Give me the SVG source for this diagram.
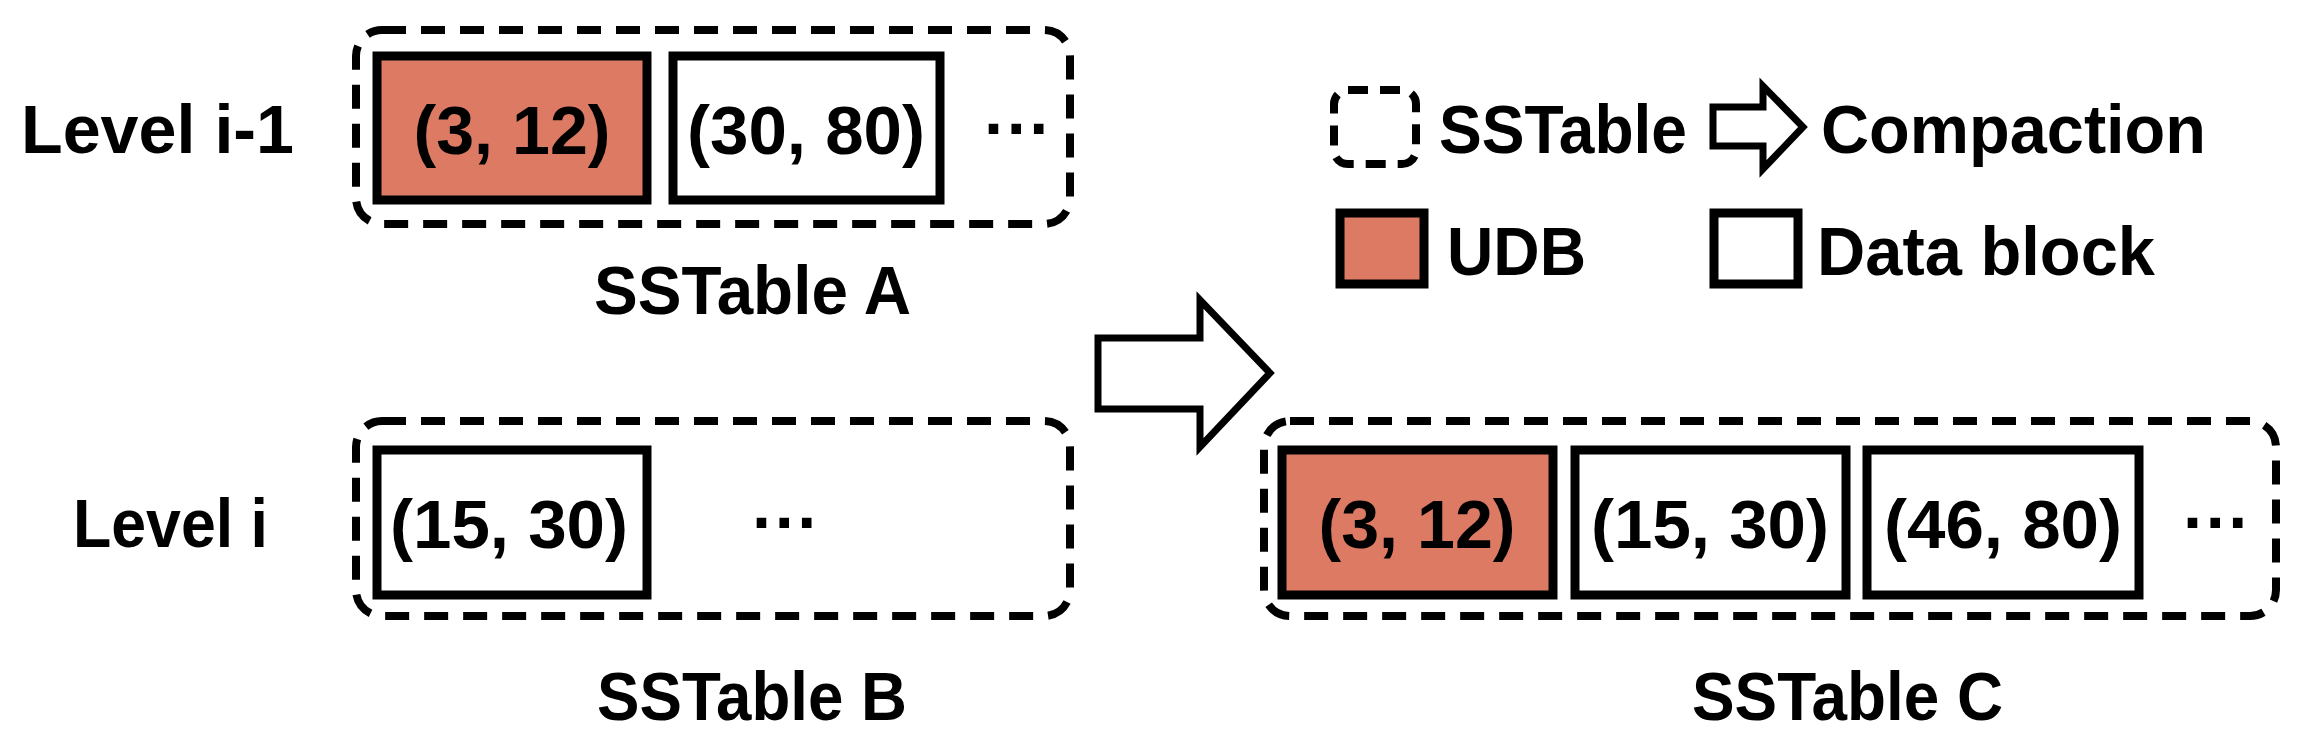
<svg xmlns="http://www.w3.org/2000/svg" width="2305" height="741" viewBox="0 0 2305 741">
<style>
.sst{fill:none;stroke:#000;stroke-width:8;stroke-dasharray:24 15}
.blk{fill:#fff;stroke:#000;stroke-width:9}
.udb{fill:#DD7A64;stroke:#000;stroke-width:9}
.arr{fill:#fff;stroke:#000;stroke-width:7}
text{font-family:"Liberation Sans",Arial,sans-serif;font-weight:bold;font-size:68px;fill:#000}
.m{text-anchor:middle}
</style>
<rect width="2305" height="741" fill="#fff"/>
<g id="labels">
<text x="21" y="153" textLength="273" lengthAdjust="spacingAndGlyphs">Level i-1</text>
<text x="73" y="547" textLength="195" lengthAdjust="spacingAndGlyphs">Level i</text>
</g>
<g id="sstableA">
<rect class="sst" x="356" y="30" width="714" height="194" rx="26"/>
<rect class="udb" x="377" y="56" width="270" height="144"/>
<text class="m" x="512" y="154" textLength="197" lengthAdjust="spacingAndGlyphs">(3, 12)</text>
<rect class="blk" x="673" y="56" width="267" height="144"/>
<text class="m" x="806" y="154" textLength="238" lengthAdjust="spacingAndGlyphs">(30, 80)</text>
<text class="m" x="1018" y="152">···</text>
<text x="594" y="314" textLength="317" lengthAdjust="spacingAndGlyphs">SSTable A</text>
</g>
<g id="sstableB">
<rect class="sst" x="356" y="421" width="714" height="195" rx="26"/>
<rect class="blk" x="377" y="450" width="270" height="145"/>
<text class="m" x="509" y="548" textLength="238" lengthAdjust="spacingAndGlyphs">(15, 30)</text>
<text class="m" x="786" y="546">···</text>
<text x="597" y="720" textLength="310" lengthAdjust="spacingAndGlyphs">SSTable B</text>
</g>
<g id="connectors">
<polygon class="arr" points="1098,338 1200,338 1200,300 1270,373 1200,447 1200,409 1098,409"/>
</g>
<g id="sstableC">
<rect class="sst" x="1264" y="421" width="1012" height="195" rx="26"/>
<rect class="udb" x="1282" y="450" width="271" height="145"/>
<text class="m" x="1417" y="548" textLength="197" lengthAdjust="spacingAndGlyphs">(3, 12)</text>
<rect class="blk" x="1575" y="450" width="271" height="145"/>
<text class="m" x="1710" y="548" textLength="238" lengthAdjust="spacingAndGlyphs">(15, 30)</text>
<rect class="blk" x="1867" y="450" width="272" height="145"/>
<text class="m" x="2003" y="548" textLength="238" lengthAdjust="spacingAndGlyphs">(46, 80)</text>
<text class="m" x="2217" y="546">···</text>
<text x="1692" y="720" textLength="311" lengthAdjust="spacingAndGlyphs">SSTable C</text>
</g>
<g id="legend">
<rect class="sst" x="1334" y="90" width="82" height="74" rx="14" style="stroke-dasharray:20 12"/>
<text x="1439" y="153" textLength="248" lengthAdjust="spacingAndGlyphs">SSTable</text>
<polygon class="arr" points="1713,107 1763,107 1763,86 1803,127 1763,169 1763,146 1713,146"/>
<text x="1821" y="153" textLength="385" lengthAdjust="spacingAndGlyphs">Compaction</text>
<rect class="udb" x="1340" y="213" width="84" height="71"/>
<text x="1447" y="275" textLength="139" lengthAdjust="spacingAndGlyphs">UDB</text>
<rect class="blk" x="1714" y="213" width="84" height="71"/>
<text x="1817" y="275" textLength="338" lengthAdjust="spacingAndGlyphs">Data block</text>
</g>
</svg>
